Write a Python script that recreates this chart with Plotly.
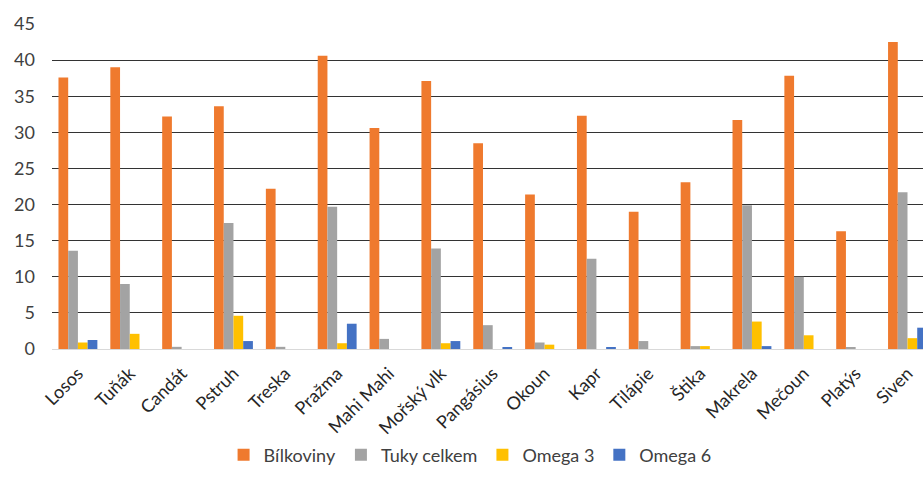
import plotly.graph_objects as go

categories = ["Losos", "Tuňák", "Candát", "Pstruh", "Treska", "Pražma", "Mahi Mahi",
              "Mořský vlk", "Pangásius", "Okoun", "Kapr", "Tilápie", "Štika",
              "Makrela", "Mečoun", "Platýs", "Siven"]
bilkoviny = [37.6, 39.0, 32.2, 33.6, 22.2, 40.6, 30.6, 37.1, 28.5, 21.4, 32.3, 19.0, 23.1, 31.7, 37.85, 16.3, 42.5]
tuky = [13.6, 9.0, 0.3, 17.45, 0.3, 19.7, 1.4, 13.9, 3.3, 0.9, 12.5, 1.1, 0.4, 19.9, 10.0, 0.2, 21.7]
omega3 = [0.9, 2.1, 0, 4.6, 0, 0.8, 0, 0.8, 0, 0.6, 0, 0, 0.4, 3.8, 1.9, 0, 1.5]
omega6 = [1.25, 0, 0, 1.1, 0, 3.5, 0, 1.1, 0.2, 0, 0.2, 0, 0, 0.4, 0, 0, 2.95]

series = [
    ("Bílkoviny", bilkoviny, "#EF7A2E"),
    ("Tuky celkem", tuky, "#A3A3A3"),
    ("Omega 3", omega3, "#FFC000"),
    ("Omega 6", omega6, "#4472C4"),
]

fig = go.Figure()
for name, vals, col in series:
    fig.add_trace(go.Bar(x=categories, y=vals, name=name,
                         marker=dict(color=col, line=dict(width=0))))

font_fam = "Lato, Open Sans, sans-serif"
fig.update_layout(
    width=923, height=494,
    margin=dict(l=51.5, r=0, t=24, b=145),
    paper_bgcolor="white", plot_bgcolor="white",
    barmode="group", bargap=0.25, bargroupgap=0,
    font=dict(family=font_fam, size=18, color="#404040"),
    showlegend=True,
    legend=dict(orientation="h", x=0.48, xanchor="center", xref="paper",
                y=-0.326, yanchor="middle", font=dict(size=18, color="#404040"),
                itemwidth=30, traceorder="normal"),
    xaxis=dict(range=[-0.5, 16.299], tickangle=-45, showgrid=False,
               showline=True, linecolor="#D9D9D9", linewidth=1,
               ticks="", ticklabelstandoff=6,
               tickfont=dict(size=18, color="#262626")),
    yaxis=dict(range=[0, 45], dtick=5, showgrid=True, gridcolor="#333333",
               gridwidth=1, zeroline=False, showline=False, ticks="",
               ticklabelstandoff=16, tickfont=dict(size=18, color="#404040")),
)
fig.write_html("out.html")
